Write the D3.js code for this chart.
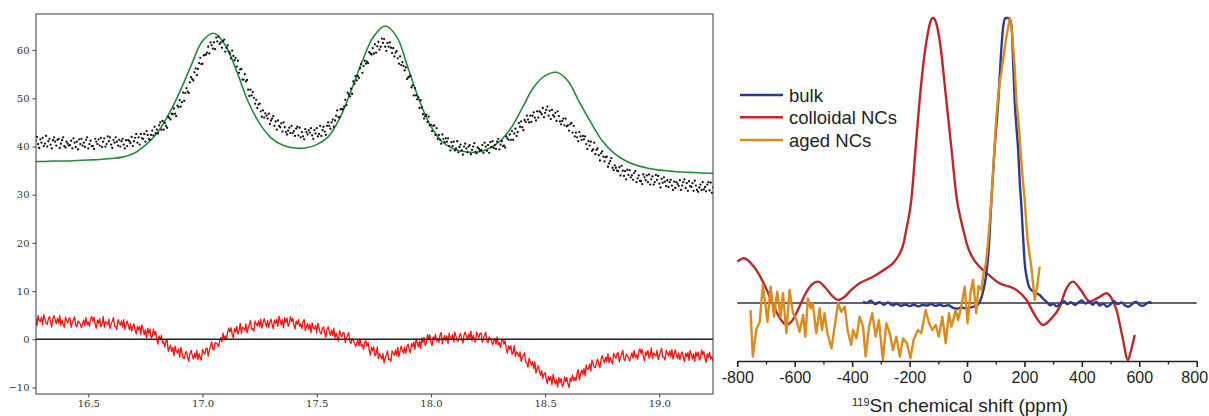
<!DOCTYPE html>
<html><head><meta charset="utf-8">
<script src="https://cdn.jsdelivr.net/npm/d3@7"></script>
<style>body{margin:0;background:#fff}svg{display:block}</style>
</head><body>
<svg id="c" width="1209" height="416"></svg>
<script>
// ---------- LEFT PANEL DATA ----------
const leftXTicks = [16.5, 17.0, 17.5, 18.0, 18.5, 19.0];
const leftYTicks = [-10, 0, 10, 20, 30, 40, 50, 60];
const fitX = [16.25,16.30,16.35,16.40,16.45,16.50,16.55,16.60,16.65,16.70,16.75,16.80,16.85,16.90,16.95,17.00,17.05,17.10,17.15,17.20,17.25,17.30,17.35,17.40,17.45,17.50,17.55,17.60,17.65,17.70,17.75,17.80,17.85,17.90,17.95,18.00,18.05,18.10,18.15,18.20,18.25,18.30,18.35,18.40,18.45,18.50,18.55,18.60,18.65,18.70,18.75,18.80,18.85,18.90,18.95,19.00,19.05,19.10,19.15,19.20,19.25];
const fitY = [36.9,36.9,37.0,37.0,37.1,37.2,37.3,37.5,37.8,38.6,40.3,42.7,46.5,51.3,56.8,61.9,63.5,61.0,55.6,49.3,44.8,41.8,40.3,39.7,39.7,40.4,42.0,45.8,51.5,57.8,62.9,65.0,62.8,56.3,49.5,44.2,41.0,39.5,38.9,38.8,39.5,41.0,43.8,48.0,52.3,54.7,55.4,53.6,49.2,45.0,41.2,38.7,37.1,36.1,35.5,35.1,34.9,34.7,34.6,34.5,34.4];
const sampleStart = 16.27, sampleStep = 0.005;
const dataY = [
41.2,42.0,40.5,39.7,41.5,40.8,41.8,40.1,40.6,42.2,
40.0,41.1,41.6,40.4,39.6,41.3,41.9,41.0,40.2,41.4,
41.6,39.7,40.6,41.3,41.9,40.1,39.8,41.0,40.6,40.2,
40.3,41.2,39.6,41.7,40.8,39.9,41.0,39.4,41.5,40.5,
41.6,40.2,40.8,39.9,41.4,41.9,39.6,40.5,41.2,40.1,
40.1,39.5,41.6,41.0,40.5,41.5,40.2,41.8,39.9,41.0,
41.7,40.0,40.5,42.1,41.1,41.9,40.4,39.7,41.4,40.8,
41.9,41.0,40.2,41.4,40.0,41.1,41.6,40.4,39.6,41.3,
40.1,41.3,41.1,40.7,42.0,40.1,41.1,41.8,42.6,40.8,
41.9,40.4,42.6,41.7,41.6,42.6,41.0,43.2,42.4,41.6,
41.4,42.4,43.3,42.3,44.1,42.8,43.5,42.7,44.4,45.0,
43.5,45.3,43.5,44.9,44.3,43.9,46.2,45.9,45.6,46.8,
46.7,47.9,46.8,46.3,48.5,48.2,49.6,48.3,49.2,51.2,
49.5,51.1,52.1,51.4,51.1,53.3,54.4,54.0,53.7,55.4,
56.2,54.8,56.1,57.3,58.4,57.1,57.2,58.9,59.0,59.1,
59.5,60.7,59.3,61.6,61.0,60.3,61.6,60.2,62.6,61.8,
62.8,61.3,61.6,60.5,61.9,62.2,59.7,60.5,61.0,59.7,
59.3,58.3,59.9,58.8,57.9,58.4,56.6,57.8,55.3,56.0,
56.1,53.9,53.9,55.0,53.5,53.8,51.8,50.5,51.8,50.6,
51.3,50.1,48.9,49.7,48.0,48.7,48.9,47.3,46.2,47.5,
46.0,46.9,46.4,45.8,46.8,44.7,45.4,45.8,46.3,44.3,
45.2,43.5,45.4,44.3,44.0,44.8,43.1,45.0,44.0,43.0,
42.5,43.3,43.9,42.8,44.3,42.8,43.2,42.2,43.7,44.1,
42.3,43.9,41.9,43.0,42.1,41.5,43.6,43.0,42.5,43.4,
42.9,43.8,42.3,41.6,43.4,42.7,43.8,42.1,42.6,44.3,
42.2,43.4,44.1,43.1,42.4,44.3,45.0,44.3,43.7,45.0,
45.6,44.1,45.4,46.4,47.5,46.1,46.1,47.7,47.8,47.7,
48.3,49.7,48.6,51.2,50.8,50.4,52.0,50.9,53.5,53.0,
54.6,53.7,54.6,54.2,56.2,57.1,55.3,56.7,57.8,57.2,
57.6,57.3,59.6,59.3,59.1,60.4,59.3,61.2,59.5,60.8,
61.7,60.1,60.7,62.4,61.5,62.3,60.7,59.8,61.5,60.7,
61.6,60.5,59.4,60.4,58.7,59.5,59.8,58.3,57.2,58.7,
56.9,57.5,56.7,55.8,56.4,54.0,54.3,54.5,54.7,52.3,
52.7,50.6,52.1,50.6,49.8,50.2,48.0,49.6,48.1,46.7,
45.8,46.3,46.6,45.1,46.2,44.4,44.5,43.2,44.3,44.4,
42.4,43.8,41.6,42.4,41.4,40.6,42.5,41.6,40.9,41.7,
41.0,41.7,40.1,39.2,40.9,40.1,41.0,39.2,39.6,41.1,
38.8,39.9,40.4,39.2,38.3,40.0,40.6,39.6,38.8,40.0,
40.3,38.4,39.3,40.0,40.7,38.9,38.6,39.8,39.5,39.1,
39.3,40.3,38.7,40.8,40.0,39.1,40.3,38.7,40.9,39.9,
41.1,39.7,40.3,39.5,41.0,41.6,39.4,40.4,41.1,40.1,
40.2,39.8,42.1,41.7,41.4,42.5,41.4,43.2,41.4,42.7,
43.7,42.2,43.0,44.9,44.1,45.2,44.0,43.4,45.5,45.1,
46.4,45.6,45.0,46.4,45.1,46.4,47.1,46.0,45.4,47.3,
46.0,47.3,47.1,46.7,48.0,46.1,47.0,47.6,48.3,46.4,
47.4,45.7,47.6,46.5,46.2,47.0,45.3,47.3,46.3,45.2,
44.6,45.3,45.8,44.4,45.8,44.2,44.4,43.3,44.6,44.9,
42.9,44.3,42.1,42.9,41.9,41.1,43.0,42.1,41.4,42.2,
41.5,42.1,40.5,39.5,41.1,40.2,41.0,39.1,39.4,40.8,
38.4,39.3,39.6,38.2,37.1,38.6,39.0,37.9,36.9,37.8,
37.9,35.8,36.5,37.0,37.6,35.6,35.1,36.1,35.6,35.0,
34.9,35.7,34.0,36.0,35.0,33.9,34.9,33.2,35.2,34.1,
35.1,33.6,34.0,33.1,34.5,34.9,32.6,33.4,34.0,32.9,
32.8,32.2,34.2,33.6,33.0,34.0,32.6,34.2,32.1,33.2,
33.8,32.1,32.6,34.1,33.1,33.9,32.3,31.5,33.3,32.5,
33.6,32.7,31.8,33.0,31.6,32.6,33.1,31.9,31.0,32.7,
31.4,32.6,32.2,31.8,33.0,31.0,31.9,32.6,33.2,31.4,
32.4,30.8,32.8,31.8,31.6,32.4,30.8,32.9,31.9,31.0,
30.6,31.5,32.1,31.0,32.6,31.1,31.6,30.7,32.1,32.6,
30.9,32.5,30.4,31.5];
const residY = [
4.4,2.8,4.9,3.9,3.7,4.6,3.0,5.1,4.2,3.3,
3.1,4.2,4.7,3.5,2.6,4.3,4.9,4.0,3.2,4.4,
3.3,4.9,2.9,4.0,3.1,2.5,4.6,3.9,3.4,4.4,
4.4,2.5,3.4,4.0,4.7,2.9,2.6,3.8,3.5,3.1,
2.4,3.3,4.0,2.9,4.5,3.1,3.6,2.7,4.2,4.7,
3.8,4.6,3.1,2.3,4.0,3.3,4.3,2.6,3.1,4.7,
2.5,3.7,3.4,3.0,4.2,2.2,3.1,3.8,4.5,2.7,
2.6,2.0,4.1,3.4,2.9,3.8,2.5,4.1,2.0,3.1,
3.8,2.9,2.0,3.2,1.7,2.7,3.2,1.9,1.1,2.7,
1.9,2.7,1.0,3.0,2.0,1.0,2.0,0.3,2.3,1.2,
2.1,0.3,0.6,2.1,1.0,1.6,0.0,-1.0,0.7,-0.1,
0.8,-0.8,-0.5,-1.6,-0.3,0.0,-2.5,-1.8,-1.2,-2.5,
-1.7,-3.4,-1.4,-2.5,-2.8,-2.0,-3.7,-1.7,-2.7,-3.8,
-4.0,-2.9,-2.5,-3.7,-4.6,-2.9,-2.3,-3.3,-4.1,-2.9,
-3.9,-2.3,-4.2,-3.0,-3.8,-4.3,-2.1,-2.7,-3.1,-2.0,
-1.8,-3.5,-2.3,-1.4,-0.5,-2.1,-2.2,-0.7,-0.8,-1.0,
-1.5,-0.4,0.4,-0.5,1.3,0.0,0.7,0.0,1.6,2.3,
1.5,2.4,1.0,0.3,2.2,1.6,2.7,1.1,1.7,3.3,
1.2,2.5,2.3,1.9,3.2,1.4,2.3,3.1,3.9,2.1,
2.2,1.7,3.8,3.2,2.8,3.8,2.6,4.2,2.3,3.4,
4.3,3.4,2.6,3.9,2.5,3.6,4.2,3.0,2.2,4.0,
3.3,4.2,2.7,4.8,3.9,3.0,4.1,2.4,4.5,3.5,
4.4,2.7,3.2,4.7,3.7,4.4,2.9,2.1,3.8,3.1,
4.1,2.7,3.2,2.2,3.7,4.1,1.8,2.6,3.3,2.1,
3.1,1.4,3.4,2.4,2.1,2.9,1.3,3.3,2.4,1.4,
1.1,2.2,2.6,1.3,0.4,2.1,2.6,1.6,0.8,1.9,
0.8,2.3,0.3,1.3,0.4,-0.3,1.8,1.1,0.5,1.4,
1.3,-0.7,0.2,0.8,1.4,-0.5,-0.9,0.2,-0.2,-0.7,
-1.5,-0.8,-0.2,-1.4,0.1,-1.4,-1.1,-2.1,-0.7,-0.3,
-1.4,-0.7,-2.3,-3.3,-1.6,-2.4,-1.6,-3.4,-3.1,-1.6,
-4.0,-3.0,-3.5,-4.1,-3.0,-4.9,-3.9,-3.2,-2.4,-4.2,
-4.1,-4.6,-2.4,-2.9,-3.3,-2.2,-3.4,-1.7,-3.6,-2.4,
-1.4,-2.2,-2.9,-1.6,-2.9,-1.6,-1.0,-2.1,-2.8,-0.9,
-1.5,-0.6,-2.1,0.1,-0.7,-1.6,-0.4,-1.9,0.3,-0.7,
0.4,-1.3,-0.7,1.0,0.0,0.9,-0.6,-1.3,0.5,-0.1,
1.0,-0.4,0.2,-0.7,0.9,1.4,-0.9,0.1,0.8,-0.3,
0.7,-0.9,1.3,0.3,0.1,1.0,-0.6,1.5,0.6,-0.2,
-0.4,0.7,1.2,0.0,-0.8,0.9,1.5,0.7,-0.1,1.1,
0.1,1.7,-0.3,0.8,0.0,-0.6,1.5,0.9,0.3,1.3,
1.3,-0.6,0.2,0.9,1.5,-0.3,-0.7,0.5,0.1,-0.3,
-1.1,-0.4,0.2,-1.0,0.5,-1.1,-0.7,-1.7,-0.3,0.0,
-1.0,-0.3,-2.0,-2.9,-1.3,-2.1,-1.3,-3.1,-2.8,-1.3,
-3.6,-2.6,-3.0,-3.6,-2.6,-4.6,-3.9,-3.3,-2.8,-4.7,
-4.9,-5.8,-3.9,-4.7,-5.4,-4.6,-6.1,-4.7,-7.0,-6.1,
-5.5,-6.6,-7.5,-6.5,-8.1,-7.2,-6.9,-8.2,-9.2,-7.7,
-8.5,-7.7,-9.4,-7.3,-8.3,-9.3,-8.3,-9.9,-7.9,-9.0,
-8.1,-9.8,-9.4,-7.8,-8.8,-7.9,-9.3,-10.0,-8.1,-8.7,
-7.4,-8.6,-7.9,-8.6,-7.0,-6.3,-8.4,-7.3,-6.4,-7.3,
-6.1,-7.6,-5.3,-6.2,-6.2,-5.1,-6.6,-4.3,-5.0,-5.8,
-5.9,-4.7,-4.1,-5.2,-5.9,-4.1,-3.4,-4.2,-4.9,-3.7,
-4.6,-3.0,-4.9,-3.8,-4.5,-5.1,-2.9,-3.5,-3.9,-2.9,
-2.8,-4.7,-3.8,-3.1,-2.3,-4.1,-4.4,-3.1,-3.4,-3.8,
-4.5,-3.5,-2.8,-3.9,-2.3,-3.7,-3.2,-4.1,-2.5,-2.0,
-2.9,-2.1,-3.6,-4.4,-2.6,-3.3,-2.3,-3.9,-3.4,-1.8,
-4.0,-2.8,-3.1,-3.5,-2.3,-4.2,-3.3,-2.6,-1.9,-3.7,
-3.7,-4.3,-2.3,-2.9,-3.4,-2.4,-3.7,-2.1,-4.1,-3.0,
-2.2,-3.2,-4.0,-2.8,-4.2,-3.1,-2.6,-3.8,-4.6,-2.9,
-3.6,-2.7,-4.4,-2.3,-3.2,-4.1,-3.0,-4.6,-2.6,-3.6,
-2.6,-4.3,-3.8,-2.2,-3.2,-2.5,-4.0,-4.8,-3.0,-3.8,
-2.7,-4.1,-3.6,-4.5];

// ---------- RIGHT PANEL DATA ----------
const ppmMajor = [-800, -600, -400, -200, 0, 200, 400, 600, 800];
const ppmMinor = [-700, -500, -300, -100, 100, 300, 500, 700];
const legendLabels = ["bulk", "colloidal NCs", "aged NCs"];
const colloidalPpm = [-800,-777,-742,-705,-670,-647,-629,-612,-589,-565,-542,-519,-496,-472,-449,-426,-403,-374,-327,-281,-258,-234,-222,-210,-194,-180,-165,-141,-128,-118,-108,-95,-72,-53,-35,-22,-10,0,21,44,80,114,145,172,207,236,265,295,323,344,369,396,428,456,486,506,521,540,561,570,584];
const colloidalInt = [14.5,15.7,12.7,6.3,-1.8,-6.0,-7.7,-6.6,-2.5,2.8,6.3,7.5,5.7,2.8,1.1,2.2,4.6,6.9,9.2,12.2,13.9,17.4,20.5,26.5,36.1,53,71.2,92,98.5,100,98.5,92,71.2,53,36.1,29.5,24.5,20.5,15.7,12.7,9.5,6.9,5.8,4.6,1.1,-4.2,-7.7,-5.3,-1.3,4.6,7.5,4.6,0.5,1.8,3.4,1.2,-2.5,-11.2,-20.0,-17.2,-11.2];
const bulkPpm = [-362,-350,-335,-320,-305,-290,-275,-260,-245,-230,-215,-200,-185,-170,-155,-140,-125,-110,-95,-80,-65,-50,-35,-20,-5,10,25,40,52,64,75,85,96,109,117,125,133,142,150,156,161,166,172,178,184,190,196,201,209,218,235,253,265,278,290,300,312,325,338,350,362,375,388,400,412,425,438,450,462,475,488,500,512,525,538,550,562,575,588,600,612,625,638,642];
const bulkInt = [0.5,0.0,0.8,-0.4,0.3,-0.6,0.2,-0.8,-0.3,-1.0,-0.5,-1.1,-0.6,-1.2,-0.7,-0.9,-0.4,-1.0,-0.6,-1.1,-0.8,-1.6,-2.0,-1.5,-1.9,-1.6,-1.2,-0.3,2.5,8,18,36,54,71,85,96,100,100,99.5,96,84,71,62,54,42,33,22,14,8.5,5.3,3.8,2.8,1.5,0.3,-0.9,-0.3,-1.2,-0.2,0.6,-0.4,0.3,-0.7,0.2,0.9,-0.2,0.5,-0.6,0.4,-0.9,-0.3,-1.3,-0.5,0.6,-0.4,0.2,-0.8,-1.3,-0.4,0.5,-0.6,-1.0,-0.2,0.4,-0.3];
const agedPpm = [-754,-746,-734,-722,-711,-699,-695,-684,-672,-661,-649,-641,-629,-618,-606,-594,-583,-571,-563,-554,-544,-537,-525,-513,-505,-496,-486,-472,-461,-449,-438,-426,-415,-403,-397,-385,-374,-362,-353,-341,-330,-318,-307,-293,-281,-269,-258,-246,-234,-223,-209,-197,-186,-171,-159,-144,-132,-121,-109,-98,-86,-74,-63,-54,-39,-31,-20,-8,2,12,21,32,40,50,58,66,73,85,102,113,120,135,149,156,166,172,181,186,193,201,211,224,236,245,253];
const agedInt = [-2.5,-18.8,-9.5,-6.6,6.3,-3.1,-6.6,5.7,-4.8,4.0,-4.8,3.4,-10.6,4.6,-3.6,-6.0,-10.1,-4.2,-11.8,1.6,-1.9,-0.1,-10.6,-1.9,-9.5,-3.6,-10.6,-15.9,-8.3,-0.1,-3.1,-1.3,-10.1,-14.7,-9.5,-12.4,-4.8,-8.3,-18.8,-8.3,-3.6,-11.8,-6.0,-20.0,-7.1,-10.6,-16.5,-11.8,-18.8,-12.4,-14.1,-19.4,-13.0,-9.5,-10.6,-2.5,-7.1,-9.5,-7.7,-11.8,-4.8,-14.1,-3.6,-8.3,-2.5,-6.0,-1.3,5.7,-7.1,3.4,8.1,-3.6,6.0,4.5,10.4,14.0,20.9,36.0,65.0,77.0,81.0,92.0,100.0,96.0,83.0,71.0,62.0,54.0,45.0,36.0,22.1,12.7,1.1,6.3,12.7];

// ---------- DRAW ----------
const svg = d3.select("#c");
const L = {x0: 36, x1: 713, y0: 14, y1: 394};
const xL = d3.scaleLinear().domain([16.271, 19.235]).range([L.x0, L.x1]);
const yL = d3.scaleLinear().domain([-11.35, 67.5]).range([L.y1, L.y0]);
const sampleX = dataY.map((d, i) => sampleStart + i * sampleStep);

svg.append("defs").append("clipPath").attr("id", "clipL")
  .append("rect").attr("x", L.x0).attr("y", L.y0).attr("width", L.x1 - L.x0).attr("height", L.y1 - L.y0);
const gL = svg.append("g").attr("clip-path", "url(#clipL)");

gL.append("path").datum(residY)
  .attr("d", d3.line().x((d, i) => xL(sampleX[i])).y(d => yL(d)))
  .attr("fill", "none").attr("stroke", "#ff1010").attr("stroke-width", 1.3).attr("stroke-linejoin", "round");
gL.append("line").attr("x1", L.x0).attr("x2", L.x1).attr("y1", yL(0)).attr("y2", yL(0))
  .attr("stroke", "#222").attr("stroke-width", 1.4);
gL.append("path").datum(fitY)
  .attr("d", d3.line().curve(d3.curveCatmullRom.alpha(0.5)).x((d, i) => xL(fitX[i])).y(d => yL(d)))
  .attr("fill", "none").attr("stroke", "#238a3a").attr("stroke-width", 1.6);
gL.selectAll("circle.pt").data(dataY).join("circle").attr("class", "pt")
  .attr("cx", (d, i) => xL(sampleX[i])).attr("cy", d => yL(d)).attr("r", 1.15).attr("fill", "#111");

svg.append("rect").attr("x", L.x0).attr("y", L.y0).attr("width", L.x1 - L.x0).attr("height", L.y1 - L.y0)
  .attr("fill", "none").attr("stroke", "#3a3a3a").attr("stroke-width", 1);

const styleAxisL = g => {
  g.select(".domain").remove();
  g.selectAll("line").attr("stroke", "#444");
  g.selectAll("text").attr("font-family", "'DejaVu Serif', serif").attr("font-size", 10).attr("fill", "#333");
};
svg.append("g").attr("transform", `translate(${L.x0},0)`)
  .call(d3.axisLeft(yL).tickValues(leftYTicks).tickSize(3.5).tickPadding(3).tickFormat(d3.format("d")))
  .call(styleAxisL);
svg.append("g").attr("transform", `translate(0,${L.y1})`)
  .call(d3.axisBottom(xL).tickValues(leftXTicks).tickSize(3.5).tickPadding(2.5).tickFormat(d3.format(".1f")))
  .call(styleAxisL);

// right panel
const xR = d3.scaleLinear().domain([-800, 800]).range([737.3, 1196.7]);
const yR = d3.scaleLinear().domain([0, 100]).range([303, 18]);
const axisYR = 361;

svg.append("line").attr("x1", xR(-800)).attr("x2", xR(800)).attr("y1", yR(0)).attr("y2", yR(0))
  .attr("stroke", "#333").attr("stroke-width", 1.4);

const lineR = (px, curve) => d3.line().curve(curve).x((d, i) => xR(px[i])).y(d => yR(d));
const colors = {bulk: "#2d3a8e", colloidal: "#c0272d", aged: "#dc8b1f"};
svg.append("path").datum(colloidalInt).attr("d", lineR(colloidalPpm, d3.curveMonotoneX))
  .attr("fill", "none").attr("stroke", colors.colloidal).attr("stroke-width", 2.4);
svg.append("path").datum(bulkInt).attr("d", lineR(bulkPpm, d3.curveMonotoneX))
  .attr("fill", "none").attr("stroke", colors.bulk).attr("stroke-width", 2.4);
svg.append("path").datum(agedInt).attr("d", lineR(agedPpm, d3.curveLinear))
  .attr("fill", "none").attr("stroke", colors.aged).attr("stroke-width", 2.4).attr("stroke-linejoin", "round");

const axR = svg.append("g").attr("transform", `translate(0,${axisYR})`)
  .call(d3.axisBottom(xR).tickValues(ppmMajor).tickSize(6).tickSizeOuter(0).tickPadding(5).tickFormat(d => String(d)));
axR.select(".domain").attr("stroke", "#222").attr("stroke-width", 1.6);
axR.selectAll(".tick line").attr("stroke", "#222").attr("stroke-width", 1.6);
axR.selectAll("text").attr("font-family", "'Liberation Sans', Arial, sans-serif").attr("font-size", 16).attr("fill", "#231f20");
axR.selectAll(".tick").filter(d => d === 800).select("text").attr("x", -2.5);
const axR2 = svg.append("g").attr("transform", `translate(0,${axisYR})`)
  .call(d3.axisBottom(xR).tickValues(ppmMinor).tickSize(3.5).tickSizeOuter(0).tickFormat(""));
axR2.select(".domain").remove();
axR2.selectAll(".tick line").attr("stroke", "#222").attr("stroke-width", 1.4);

const title = svg.append("text").attr("x", 852).attr("y", 412)
  .attr("font-family", "'Liberation Sans', Arial, sans-serif").attr("font-size", 19).attr("fill", "#231f20");
title.append("tspan").attr("font-size", 11).attr("dy", -6).text("119");
title.append("tspan").attr("dy", 6).text("Sn chemical shift (ppm)");

// legend
const legendColors = [colors.bulk, colors.colloidal, colors.aged];
const legendY = [95, 117.3, 140];
const lg = svg.append("g");
legendLabels.forEach((lab, i) => {
  lg.append("line").attr("x1", 740).attr("x2", 783).attr("y1", legendY[i]).attr("y2", legendY[i])
    .attr("stroke", legendColors[i]).attr("stroke-width", 2.4);
  lg.append("text").attr("x", 789).attr("y", legendY[i] + 6.6)
    .attr("font-family", "'Liberation Sans', Arial, sans-serif").attr("font-size", 18.5).attr("fill", "#231f20")
    .text(lab);
});
</script>
</body></html>
